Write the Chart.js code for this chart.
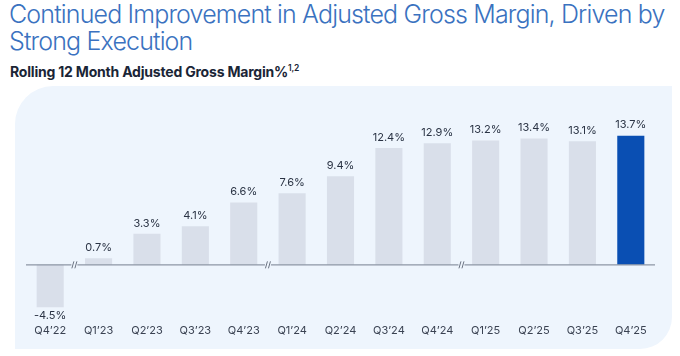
<!DOCTYPE html>
<html><head><meta charset="utf-8">
<script src="https://cdn.jsdelivr.net/npm/chart.js@4.4.1/dist/chart.umd.min.js"></script>
<style>
html,body{margin:0;padding:0;background:#fff;width:680px;height:356px;overflow:hidden;font-family:Inter,"Noto Sans",sans-serif}
#t1{position:absolute;left:9px;top:1px;font-size:25px;line-height:27px;font-weight:300;color:#3a72c0;letter-spacing:-0.85px;white-space:nowrap}
#t2{position:absolute;left:10px;top:63px;font-size:14px;font-weight:700;color:#1a2536;letter-spacing:-0.2px;white-space:nowrap}
#t2 sup{font-size:8.5px;font-weight:600;vertical-align:6px}
#panel{position:absolute;left:15px;top:86px;width:657px;height:263px;background:#eef5fd;border-radius:38px 0 32px 0}
#c{position:absolute;left:0;top:0}
</style></head><body>
<div id="t1">Continued Improvement in Adjusted Gross Margin, Driven by<br>Strong Execution</div>
<div id="t2">Rolling 12 Month Adjusted Gross Margin%<sup>1,2</sup></div>
<div id="panel"></div>
<canvas id="c" width="680" height="356"></canvas>
<script>
const categories = ["Q4\u201922","Q1\u201923","Q2\u201923","Q3\u201923","Q4\u201923","Q1\u201924","Q2\u201924","Q3\u201924","Q4\u201924","Q1\u201925","Q2\u201925","Q3\u201925","Q4\u201925"];
const margins = [-4.5, 0.7, 3.3, 4.1, 6.6, 7.6, 9.4, 12.4, 12.9, 13.2, 13.4, 13.1, 13.7];
const valueLabels = ["-4.5%","0.7%","3.3%","4.1%","6.6%","7.6%","9.4%","12.4%","12.9%","13.2%","13.4%","13.1%","13.7%"];
const breaksAfter = [0, 4, 8];

const barColors = margins.map((v,i)=> i===margins.length-1 ? '#0a4fb3' : '#d9dfea');

const overlay = {
  id:'overlay',
  afterDatasetsDraw(chart){
    const ctx = chart.ctx, x = chart.scales.x, y = chart.scales.y;
    const y0 = y.getPixelForValue(0);
    const ca = chart.chartArea;
    ctx.save();
    ctx.strokeStyle = '#8d96a5'; ctx.lineWidth = 1.2;
    const bx = breaksAfter.map(i => (x.getPixelForValue(i)+x.getPixelForValue(i+1))/2);
    ctx.beginPath();
    let start = ca.left;
    bx.forEach(b => { ctx.moveTo(start, y0); ctx.lineTo(b-3, y0); start = b+3; });
    ctx.moveTo(start, y0); ctx.lineTo(ca.right, y0);
    ctx.stroke();
    ctx.strokeStyle = '#6b7382'; ctx.lineWidth = 1;
    bx.forEach(b => {
      ctx.beginPath();
      ctx.moveTo(b-2.5, y0+3.5); ctx.lineTo(b-0.5, y0-3.5);
      ctx.moveTo(b+0.5, y0+3.5); ctx.lineTo(b+2.5, y0-3.5);
      ctx.stroke();
    });
    const meta = chart.getDatasetMeta(0);
    ctx.fillStyle = '#2a3344';
    ctx.font = '400 11px Inter, "Noto Sans", sans-serif';
    ctx.textAlign = 'center';
    meta.data.forEach((el,i) => {
      const v = margins[i];
      if (v >= 0) { ctx.textBaseline = 'bottom'; ctx.fillText(valueLabels[i], el.x, el.y - 5); }
      else { ctx.textBaseline = 'top'; ctx.fillText(valueLabels[i], el.x, el.y + 3); }
    });
    ctx.restore();
  }
};

new Chart(document.getElementById('c'), {
  type:'bar',
  data:{ labels:categories, datasets:[{ data:margins, backgroundColor:barColors, barPercentage:0.56, categoryPercentage:1.0 }]},
  options:{
    responsive:false, animation:false,
    layout:{ padding:{ left:26, right:25, top:114, bottom:15 } },
    plugins:{ legend:{display:false}, tooltip:{enabled:false}, title:{display:false} },
    scales:{
      x:{ grid:{display:false}, border:{display:false},
          ticks:{ color:'#3a4252', font:{ family:'Inter, "Noto Sans", sans-serif', size:11 }, padding:4, maxRotation:0, autoSkip:false } },
      y:{ display:false, min:-4.98, max:16.0 }
    }
  },
  plugins:[overlay]
});
</script>
</body></html>
